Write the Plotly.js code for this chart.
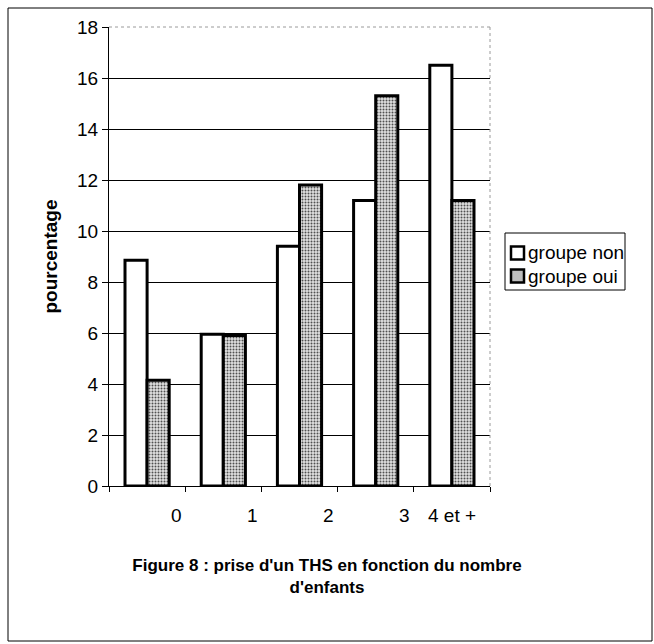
<!DOCTYPE html>
<html>
<head>
<meta charset="utf-8">
<script src="https://cdn.plot.ly/plotly-3.0.1.min.js"></script>
<style>html,body{margin:0;padding:0;background:#fff;}#chart{width:654px;height:644px;}</style>
</head>
<body>
<div id="chart"></div>
<script>
// ---- data ----
var categories = ["0", "1", "2", "3", "4 et +"];
var groupeNon = [8.85, 5.95, 9.4, 11.2, 16.5];
var groupeOui = [4.15, 5.9, 11.8, 15.3, 11.2];
var seriesNames = ["groupe non", "groupe oui"];
var yTicks = [0, 2, 4, 6, 8, 10, 12, 14, 16, 18];
var yAxisTitle = "pourcentage";
var captionText = "Figure 8 : prise d'un THS en fonction du nombre<br>d'enfants";

// ---- layout geometry (pixels) ----
var W = 654, H = 644;
var L = 109, R = 490, T = 27, B = 486;
function px(xp){ return (xp - L) / (R - L); }
function py(yp){ return (B - yp) / (B - T); }
var FONT = "Liberation Sans, Arial, sans-serif";
var OUI_FILL = "#e2e2e2";

var traces = [
  {
    type: "bar", name: seriesNames[0], x: categories, y: groupeNon, showlegend: false,
    marker: { color: "#ffffff", line: { color: "#000000", width: 3 } }
  },
  {
    type: "bar", name: seriesNames[1], x: categories, y: groupeOui, showlegend: false,
    marker: {
      color: OUI_FILL,
      line: { color: "#000000", width: 3 },
      pattern: { shape: ".", fgcolor: "#505050", bgcolor: OUI_FILL, size: 3, solidity: 0.35 }
    }
  }
];

// x tick labels: Excel-like offset labels
var labelShift = [0.38, 0.38, 0.38, 0.38, 0.0];
var annotations = categories.map(function(c, i){
  return {
    xref: "x", yref: "paper", x: i + labelShift[i], y: py(515),
    text: c, showarrow: false, xanchor: "center", yanchor: "middle",
    font: { family: FONT, size: 19, color: "#000" }
  };
});

// hand-built legend (box, symbols, labels)
var legendRows = [253, 276];
var legendFills = ["#ffffff", "#bdbdbd"];
var shapes = [
  { type: "line", xref: "paper", yref: "paper", x0: 0, x1: 1, y0: 1, y1: 1,
    line: { color: "#9a9a9a", width: 1, dash: "dot" } },
  { type: "line", xref: "paper", yref: "paper", x0: 1, x1: 1, y0: 0, y1: 1,
    line: { color: "#9a9a9a", width: 1, dash: "dot" } },
  { type: "rect", xref: "paper", yref: "paper", layer: "below",
    x0: px(8), x1: px(652), y0: py(641), y1: py(8),
    line: { color: "#000", width: 1 }, fillcolor: "rgba(0,0,0,0)" },
  { type: "rect", xref: "paper", yref: "paper",
    x0: px(505), x1: px(625), y0: py(290), y1: py(233),
    line: { color: "#000", width: 1 }, fillcolor: "#ffffff" }
];
seriesNames.forEach(function(n, k){
  var yc = legendRows[k];
  shapes.push({ type: "rect", xref: "paper", yref: "paper",
    x0: px(511), x1: px(524), y0: py(yc + 6.5), y1: py(yc - 6.5),
    line: { color: "#000", width: 2.5 }, fillcolor: legendFills[k] });
  annotations.push({ xref: "paper", yref: "paper", x: px(526), y: py(yc),
    text: n, showarrow: false, xanchor: "left", yanchor: "middle",
    font: { family: FONT, size: 19, color: "#000" } });
});

var layout = {
  width: W, height: H,
  margin: { l: L, r: W - R, t: T, b: H - B, pad: 0 },
  paper_bgcolor: "#ffffff", plot_bgcolor: "#ffffff",
  barmode: "group", bargap: 0.42, bargroupgap: 0,
  showlegend: false,
  title: {
    text: captionText,
    xref: "container", yref: "container", x: 0.5, y: 1 - 571 / H,
    xanchor: "center", yanchor: "middle",
    font: { family: FONT, size: 17, color: "#000", weight: "bold" }
  },
  xaxis: {
    type: "category", range: [-0.5, 4.5], fixedrange: true,
    showticklabels: false, ticks: "outside", tickson: "boundaries",
    ticklen: 5, tickcolor: "#000", tickwidth: 1,
    showline: true, linecolor: "#000", linewidth: 1,
    showgrid: false, zeroline: false
  },
  yaxis: {
    range: [0, 18], tickmode: "array", tickvals: yTicks,
    ticks: "outside", ticklen: 6, tickcolor: "#000", tickwidth: 1,
    showline: true, linecolor: "#000", linewidth: 1,
    showgrid: true, gridcolor: "#000", gridwidth: 1, zeroline: false,
    tickfont: { family: FONT, size: 19, color: "#000" },
    title: { text: yAxisTitle, standoff: 14, font: { family: FONT, size: 19, color: "#000", weight: "bold" } }
  },
  shapes: shapes,
  annotations: annotations
};

Plotly.newPlot("chart", traces, layout, { displayModeBar: false, staticPlot: true });
</script>
</body>
</html>
